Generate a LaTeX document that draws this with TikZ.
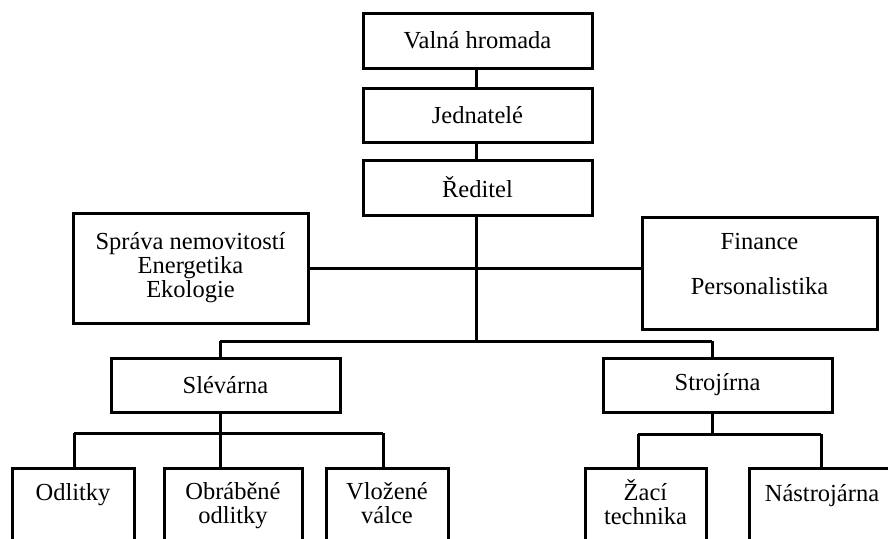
\documentclass[tikz,border=0pt]{standalone}
\usepackage{fontspec}
\setmainfont{Liberation Serif}
\begin{document}
\begin{tikzpicture}[x=1pt,y=-1pt,
  orgbox/.style={draw, line width=3pt, rectangle, inner sep=0pt, align=center,
    font=\fontsize{24.5}{24}\selectfont},
  lbl/.style={inner sep=0pt, align=center, font=\fontsize{24.5}{24}\selectfont},
  conn/.style={line width=3pt}]
\useasboundingbox[fill=white] (0,0) rectangle (888,538);
% top chain
\node[orgbox, minimum width=229, minimum height=55] (valna) at (477.5,40.5) {Valná hromada};
\node[orgbox, minimum width=229, minimum height=54] (jedn) at (477.5,115) {Jednatelé};
\node[orgbox, minimum width=229, minimum height=55] (red) at (477.5,187.5) {Ředitel};
% staff boxes
\node[orgbox, minimum width=235, minimum height=110] (sprava) at (190.5,268) {Správa nemovitostí\\Energetika\\Ekologie};
\node[orgbox, minimum width=235, minimum height=112] (fin) at (759.5,273) {};
\node[lbl] (fint) at (759.5,264) {Finance\\[21pt]Personalistika};
% divisions
\node[orgbox, minimum width=229, minimum height=54] (slev) at (225.5,385) {Slévárna};
\node[orgbox, minimum width=229, minimum height=54] (stroj) at (717.5,385) {Strojírna};
% bottom boxes (cut by the page edge)
\node[orgbox, minimum width=122, minimum height=92] (odl) at (73,514) {};
\node[orgbox, minimum width=138, minimum height=92] (obr) at (233,514) {};
\node[orgbox, minimum width=122, minimum height=92] (vloz) at (387,514) {};
\node[orgbox, minimum width=121, minimum height=92] (zaci) at (645.5,514) {};
\node[orgbox, minimum width=146, minimum height=92] (nast) at (822,514) {};
\node[lbl, anchor=base] (odlt) at ([yshift=-34pt]odl.north) {Odlitky};
\node[lbl, anchor=base] (obrt) at ([yshift=-57pt]obr.north) {Obráběné\\odlitky};
\node[lbl, anchor=base] (vlozt) at ([yshift=-57pt]vloz.north) {Vložené\\válce};
\node[lbl, anchor=base] (zacit) at ([yshift=-58pt]zaci.north) {Žací\\technika};
\node[lbl, anchor=base] (nastt) at ([yshift=-35pt]nast.north) {Nástrojárna};
% junctions
\coordinate (j1) at (476,341);
\coordinate (sl) at (220,341);
\coordinate (st) at (712,341);
\coordinate (bl) at (74,433);
\coordinate (br) at (383,433);
\coordinate (cl) at (638,434);
\coordinate (cr) at (821,434);
% connectors
\draw[conn] (j1 |- valna.south) -- (j1 |- jedn.north);
\draw[conn] (j1 |- jedn.south) -- (j1 |- red.north);
\draw[conn] (j1 |- red.south) -- (j1);
\draw[conn] (sprava.east) -- (sprava.east -| fin.west);
\draw[conn] (sl) -- (st);
\draw[conn] (sl) -- (sl |- slev.north);
\draw[conn] (st) -- (st |- stroj.north);
\draw[conn] (bl) -- (br);
\draw[conn] (bl) -- (bl |- odl.north);
\draw[conn] (br) -- (br |- vloz.north);
\draw[conn] (sl |- slev.south) -- (sl |- obr.north);
\draw[conn] (cl) -- (cr);
\draw[conn] (cl) -- (cl |- zaci.north);
\draw[conn] (cr) -- (cr |- nast.north);
\draw[conn] (st |- stroj.south) -- (st |- cl);
\end{tikzpicture}
\end{document}
